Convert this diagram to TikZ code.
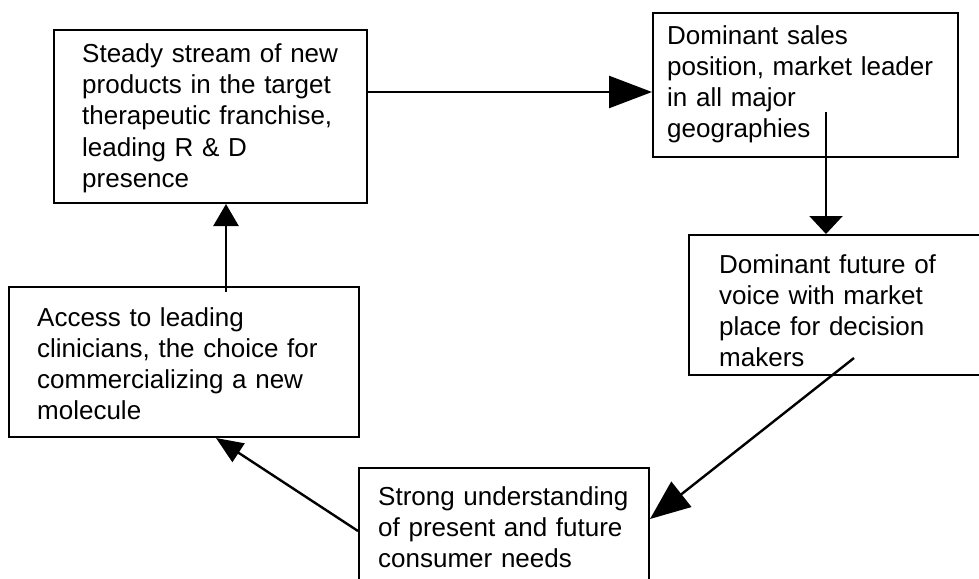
\documentclass[tikz,border=0pt]{standalone}
\usepackage{fontspec}
\setmainfont{Liberation Sans}[WordSpace=1.4]
\usetikzlibrary{arrows.meta}
\begin{document}
\begin{tikzpicture}[x=1pt,y=-1pt,
  box/.style={draw, line width=2pt, inner sep=0pt},
  txt/.style={anchor=base west, inner sep=0pt, text width=330pt, align=left,
              font=\fontsize{26}{31}\selectfont},
  conn/.style n args={2}{line width=2.4pt, -{Triangle[length=#1pt,width=#2pt]}}]
\useasboundingbox (0,0) rectangle (979,578);
\clip (0,0) rectangle (979,578);
% boxes
\node[box, minimum width=313pt, minimum height=173pt] (b1) at (210.5,116.5) {};
\node[box, minimum width=305pt, minimum height=144pt] (b2) at (805.5,85) {};
\node[box, minimum width=306pt, minimum height=140pt] (b3) at (842,305) {};
\node[box, minimum width=290pt, minimum height=132pt] (b4) at (504,534) {};
\node[box, minimum width=350pt, minimum height=150pt] (b5) at (184,362) {};
% texts
\node[txt] (t1) at (82,63) {Steady stream of new\\products in the target\\therapeutic franchise,\\leading R \& D\\presence};
\node[txt] (t2) at (667,45) {Dominant sales\\position, market leader\\in all major\\geographies};
\node[txt] (t3) at (719,273) {Dominant future of\\voice with market\\place for decision\\makers};
\node[txt] (t4) at (378,505) {Strong understanding\\of present and future\\consumer needs};
\node[txt] (t5) at (37,326) {Access to leading\\clinicians, the choice for\\commercializing a new\\molecule};
% connectors
\draw[conn={43}{32}] ([yshift=-63pt]b1.north east) -- ([yshift=-80pt]b2.north west);
\draw[conn={18}{33}] ([xshift=174pt,yshift=-100pt]b2.north west) -- ([xshift=138pt]b3.north west);
\draw[conn={40}{32}] ([xshift=166pt,yshift=18pt]b3.south west) -- ([yshift=-52pt]b4.north east);
\draw[conn={27}{22}] ([yshift=-64pt]b4.north west) -- ([xshift=208pt]b5.south west);
\draw[conn={22}{25}] ([xshift=218pt,yshift=-6pt]b5.north west) -- ([xshift=173pt]b1.south west);
\end{tikzpicture}
\end{document}
